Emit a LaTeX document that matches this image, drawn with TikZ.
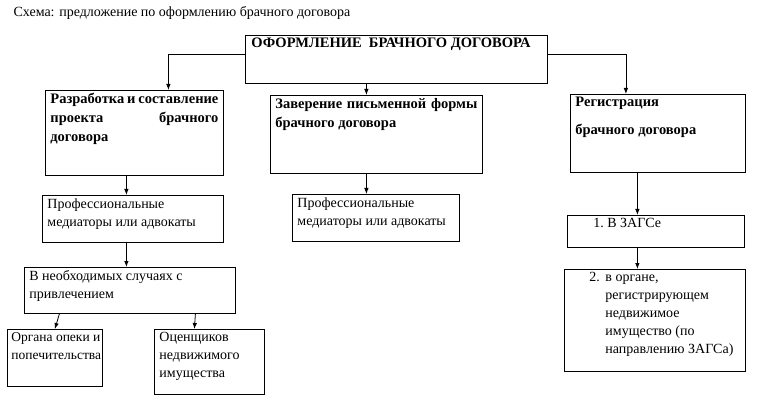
\documentclass[tikz,border=0pt]{standalone}
\usepackage{fontspec}
\setmainfont{Liberation Serif}
\usetikzlibrary{arrows.meta}
\newcommand{\cellbox}[3]{\parbox[t][#2][t]{#1}{#3}}

\begin{document}
\begin{tikzpicture}[x=1pt,y=-1pt,
  box/.style={draw,line width=0.8pt,anchor=north west,inner xsep=5pt,inner ysep=3pt,
    font=\fontsize{14}{18}\selectfont},
  bbox/.style={box,font=\fontsize{14.5}{19}\selectfont\bfseries},
  arr/.style={line width=0.8pt,-{Latex[length=6pt,width=4.5pt]}}]
\useasboundingbox (0,0) rectangle (765,403);

\node[anchor=west,font=\fontsize{14}{18}\selectfont] (title) at (10,13)
  {Схема: предложение по оформлению брачного договора};

% top box
\node[bbox] (main) at (245,35) {\cellbox{292pt}{42pt}{\hspace*{1pt}ОФОРМЛЕНИЕ\ \ БРАЧНОГО ДОГОВОРА}};

% three stages
\node[bbox] (dev) at (45,90) {\cellbox{168pt}{79pt}{Разработка и составление\linebreak проекта брачного\linebreak договора}};
\node[bbox] (ver) at (270,95) {\cellbox{202pt}{72pt}{Заверение письменной формы\linebreak брачного договора}};
\node[bbox] (reg) at (570,94) {\cellbox{165pt}{72pt}{Регистрация\\[9pt] брачного договора}};

% left column
\node[box] (med1) at (42,195) {\cellbox{171pt}{41pt}{Профессиональные\\ медиаторы или адвокаты}};
\node[box] (need) at (24,267) {\cellbox{201pt}{40pt}{В необходимых случаях с\\ привлечением}};
\node[box,inner xsep=4pt,font=\fontsize{13.5}{18}\selectfont] (organ) at (7,329)
  {\cellbox{87pt}{51pt}{\mbox{Органа опеки и}\\ попечительства}};
\node[box] (estim) at (154,329) {\cellbox{100pt}{59pt}{Оценщиков\\ недвижимого\\ имущества}};

% middle column
\node[box] (med2) at (292,194) {\cellbox{157pt}{41pt}{Профессиональные\\ медиаторы или адвокаты}};

% right column
\node[box] (zags) at (567,215) {\cellbox{167pt}{26pt}{\hspace*{21pt}1.~В~ЗАГСе}};
\node[box] (regorg) at (564,269) {\cellbox{171pt}{96pt}{\hangindent=36pt\hangafter=1
  \hspace*{20pt}\makebox[16pt][l]{2.}в органе,\\ регистрирующем\\ недвижимое\\
  имущество (по\\ направлению ЗАГСа)}};

\draw[arr] ([yshift=5pt]main.west) -| ([xshift=34pt]dev.north);
\draw[arr] ([yshift=5pt]main.east) -| ([xshift=-32pt]reg.north);
\draw[arr] ([xshift=-30pt]main.south) -- ([xshift=-30pt]main.south |- ver.north);

\draw[arr] ([xshift=-8pt]dev.south) -- ([xshift=-8pt]dev.south |- med1.north);
\draw[arr] ([xshift=-6.5pt]med1.south) -- ([xshift=-6.5pt]med1.south |- need.north);
\draw[arr] ([xshift=-70.5pt]need.south) -- (organ.north);
\draw[arr] ([xshift=65.5pt]need.south) -- ([xshift=-15pt]estim.north);

\draw[arr] ([xshift=-10pt]ver.south) -- ([xshift=-10pt]ver.south |- med2.north);

\draw[arr] ([xshift=-20.5pt]reg.south) -- ([xshift=-20.5pt]reg.south |- zags.north);
\draw[arr] ([xshift=-18.5pt]zags.south) -- ([xshift=-18.5pt]zags.south |- regorg.north);
\end{tikzpicture}
\end{document}
